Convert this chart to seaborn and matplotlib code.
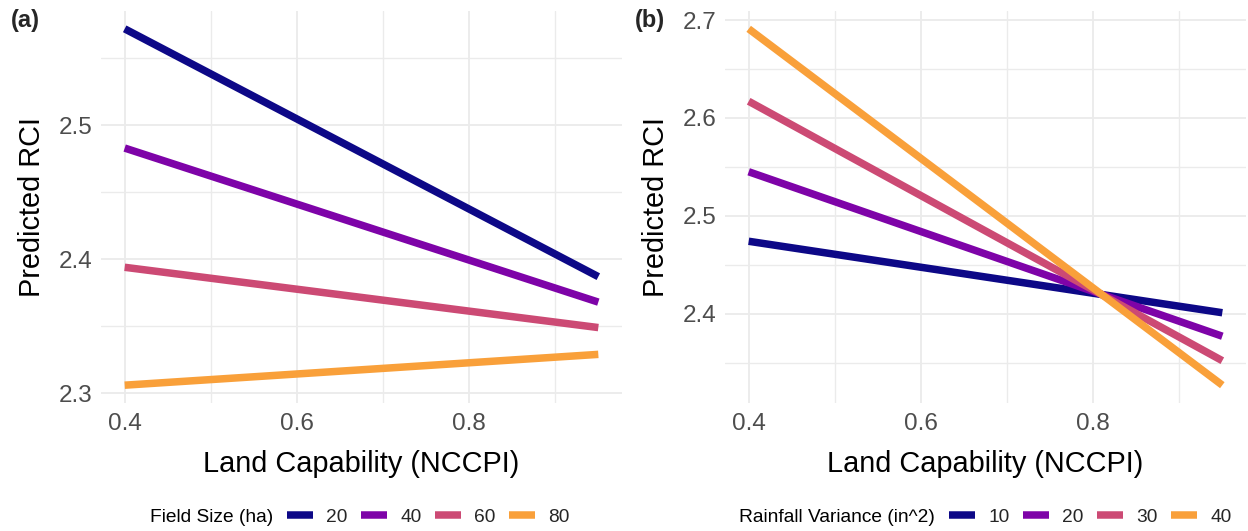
import numpy as np
import pandas as pd
import matplotlib
matplotlib.use("Agg")
import matplotlib.pyplot as plt
from matplotlib.ticker import FixedLocator
from matplotlib.lines import Line2D
import seaborn as sns

# Predicted RCI at the ends of the NCCPI range
nccpi = [0.40, 0.95]

field_sizes = ["20", "40", "60", "80"]
rci_field_start = [2.572, 2.483, 2.394, 2.306]
rci_field_end = [2.387, 2.368, 2.349, 2.329]

rain_vars = ["10", "20", "30", "40"]
rci_rain_start = [2.474, 2.545, 2.617, 2.691]
rci_rain_end = [2.401, 2.377, 2.352, 2.327]

palette = ["#0D0887", "#7E03A8", "#CC4A74", "#F9A03A"]

sns.set_theme(style="white")
plt.rcParams["font.family"] = ["Liberation Sans", "DejaVu Sans"]


def long_frame(groups, start, end, name):
    rows = []
    for g, s, e in zip(groups, start, end):
        rows.append({"nccpi": nccpi[0], "rci": s, name: g})
        rows.append({"nccpi": nccpi[1], "rci": e, name: g})
    return pd.DataFrame(rows)


df_a = long_frame(field_sizes, rci_field_start, rci_field_end, "field")
df_b = long_frame(rain_vars, rci_rain_start, rci_rain_end, "rain")

W, H = 1248, 531
fig = plt.figure(figsize=(W / 100, H / 100), dpi=100)


def px_axes(left, top, right, bottom):
    return fig.add_axes([left / W, 1 - bottom / H, (right - left) / W, (bottom - top) / H])


ax_a = px_axes(101, 11, 622, 403)
ax_b = px_axes(725, 11, 1246, 403)

GRID = "#ebebeb"
TICK_COLOR = "#4d4d4d"
LW = 5.4


def style_axes(ax, ymajor, yminor):
    ax.xaxis.set_major_locator(FixedLocator([0.4, 0.6, 0.8]))
    ax.xaxis.set_minor_locator(FixedLocator([0.5, 0.7, 0.9]))
    ax.yaxis.set_major_locator(FixedLocator(ymajor))
    ax.yaxis.set_minor_locator(FixedLocator(yminor))
    ax.set_xticklabels(["0.4", "0.6", "0.8"])
    ax.set_yticklabels([f"{v:.1f}" for v in ymajor])
    ax.grid(True, which="major", color=GRID, linewidth=1.3)
    ax.grid(True, which="minor", color=GRID, linewidth=1.0)
    ax.set_axisbelow(True)
    for sp in ax.spines.values():
        sp.set_visible(False)
    ax.tick_params(which="both", length=0, labelsize=17.5, labelcolor=TICK_COLOR)
    ax.tick_params(axis="y", pad=6)
    ax.tick_params(axis="x", pad=7)
    ax.set_xlabel("Land Capability (NCCPI)", fontsize=20.8, color="black", labelpad=11)
    ax.set_ylabel("Predicted RCI", fontsize=20.8, color="black", labelpad=9)


sns.lineplot(data=df_a, x="nccpi", y="rci", hue="field", palette=palette,
             linewidth=LW, legend=False, ax=ax_a, solid_capstyle="butt")
sns.lineplot(data=df_b, x="nccpi", y="rci", hue="rain", palette=palette,
             linewidth=LW, legend=False, ax=ax_b, solid_capstyle="butt")

style_axes(ax_a, [2.3, 2.4, 2.5], [2.35, 2.45, 2.55])
style_axes(ax_b, [2.4, 2.5, 2.6, 2.7], [2.35, 2.45, 2.55, 2.65])

ax_a.margins(x=0.05, y=0.05)
ax_b.margins(x=0.05, y=0.05)

fig.text(11 / W, 1 - 20 / H, "(a)", fontsize=17, fontweight="bold", va="center", ha="left")
fig.text(635 / W, 1 - 20 / H, "(b)", fontsize=17, fontweight="bold", va="center", ha="left")


def bottom_legend(title, labels, title_x, keys_x):
    y = 1 - 517 / H
    fig.text(title_x / W, y, title, fontsize=13.8, va="center", ha="left", color="black")
    handles = [Line2D([0], [0], color=c, linewidth=LW, solid_capstyle="butt") for c in palette]
    fig.legend(handles, labels, loc="center left", bbox_to_anchor=(keys_x / W, y),
               ncol=len(labels), frameon=False, fontsize=13.8, borderpad=0,
               borderaxespad=0, handlelength=1.35, handletextpad=0.7,
               columnspacing=0.7)


bottom_legend("Field Size (ha)", field_sizes, 150, 287)
bottom_legend("Rainfall Variance (in^2)", rain_vars, 739, 949)

fig.savefig("out.png", dpi=100, facecolor="white")
